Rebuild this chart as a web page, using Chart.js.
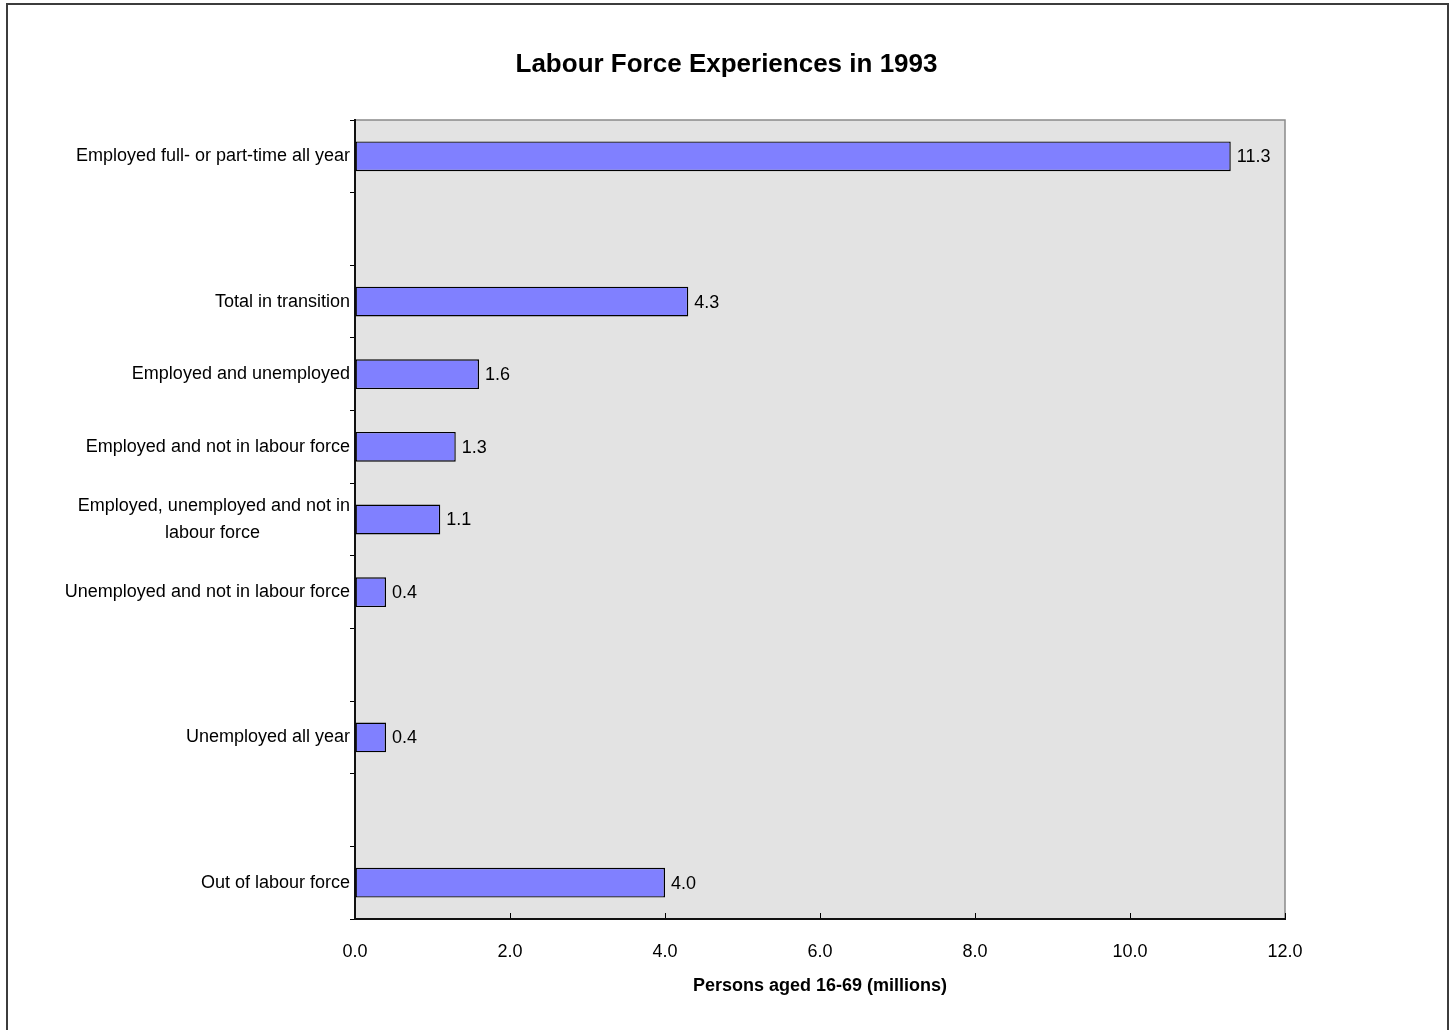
<!DOCTYPE html>
<html>
<head>
<meta charset="utf-8">
<script src="https://cdn.jsdelivr.net/npm/chart.js@4/dist/chart.umd.min.js"></script>
<style>
  html, body { margin: 0; padding: 0; background: #ffffff; }
  #frame { position: absolute; left: 6px; top: 3px; width: 1439px; height: 1040px;
           border: 2px solid #3c3c3c; border-bottom: none; }
  #wrap { position: absolute; left: 0; top: 0; width: 1453px; height: 1030px; }
</style>
</head>
<body>
<div id="frame"></div>
<div id="wrap"><canvas id="c" width="1453" height="1030"></canvas></div>
<script>
const chartTitle = "Labour Force Experiences in 1993";
const xAxisTitle = "Persons aged 16-69 (millions)";
const categories = [
  "Employed full- or part-time all year",
  "",
  "Total in transition",
  "Employed and unemployed",
  "Employed and not in labour force",
  ["Employed, unemployed and not in", "labour force" + " ".repeat(18)],
  "Unemployed and not in labour force",
  "",
  "Unemployed all year",
  "",
  "Out of labour force"
];
const values = [11.3, null, 4.3, 1.6, 1.3, 1.1, 0.4, null, 0.4, null, 4.0];
const xMin = 0, xMax = 12, xStep = 2;

const FONT = "'Liberation Sans', Arial, sans-serif";

const plotBg = {
  id: 'plotBg',
  beforeDraw(chart) {
    const {ctx, chartArea: a} = chart;
    ctx.save();
    ctx.fillStyle = '#e3e3e3';
    ctx.fillRect(a.left, a.top, a.right - a.left, a.bottom - a.top);
    ctx.strokeStyle = '#8a8a8a';
    ctx.lineWidth = 1.5;
    ctx.beginPath();
    ctx.moveTo(a.left, a.top);
    ctx.lineTo(a.right, a.top);
    ctx.lineTo(a.right, a.bottom);
    ctx.stroke();
    ctx.restore();
  }
};

const valueLabels = {
  id: 'valueLabels',
  afterDatasetsDraw(chart) {
    const {ctx} = chart;
    const meta = chart.getDatasetMeta(0);
    ctx.save();
    ctx.font = "18px " + FONT;
    ctx.fillStyle = '#000';
    ctx.textAlign = 'left';
    ctx.textBaseline = 'middle';
    meta.data.forEach((el, i) => {
      const v = chart.data.datasets[0].data[i];
      if (v === null || v === undefined) return;
      ctx.fillText(v.toFixed(1), el.x + 6, el.y + 1);
    });
    ctx.restore();
  }
};

new Chart(document.getElementById('c'), {
  type: 'bar',
  data: {
    labels: categories,
    datasets: [{
      data: values,
      backgroundColor: '#8080ff',
      borderColor: '#000000',
      borderWidth: 1.4,
      borderSkipped: false,
      barPercentage: 0.41,
      categoryPercentage: 1.0
    }]
  },
  options: {
    indexAxis: 'y',
    responsive: false,
    animation: false,
    layout: { padding: 0 },
    plugins: {
      legend: { display: false },
      tooltip: { enabled: false },
      title: {
        display: true,
        text: chartTitle,
        color: '#000',
        font: { family: FONT, size: 26, weight: 'bold' },
        padding: { top: 49, bottom: 39.8 }
      }
    },
    scales: {
      x: {
        type: 'linear',
        min: xMin, max: xMax,
        afterFit(scale) { scale.height = 111; },
        ticks: {
          stepSize: xStep,
          color: '#000',
          font: { family: FONT, size: 18 },
          padding: 28,
          maxRotation: 0,
          callback: v => Number(v).toFixed(1)
        },
        grid: { drawOnChartArea: false, drawTicks: true, tickLength: -6, color: '#000', lineWidth: 1 },
        border: { display: true, color: '#111', width: 2 },
        title: {
          display: true,
          text: xAxisTitle,
          color: '#000',
          font: { family: FONT, size: 18, weight: 'bold' },
          padding: { top: 0, bottom: 33 }
        }
      },
      y: {
        type: 'category',
        afterFit(scale) { scale.width = 355; },
        ticks: {
          autoSkip: false,
          color: '#000',
          font: { family: FONT, size: 18, lineHeight: 1.55 },
          padding: 0
        },
        grid: { offset: true, drawOnChartArea: false, drawTicks: true, tickLength: 5, color: '#000', lineWidth: 1 },
        border: { display: true, color: '#111', width: 2 }
      },
      yRightSpace: {
        type: 'category',
        position: 'right',
        afterFit(scale) { scale.width = 168; },
        ticks: { display: false },
        grid: { display: false, drawTicks: false },
        border: { display: false },
        title: { display: false }
      }
    }
  },
  plugins: [plotBg, valueLabels]
});
</script>
</body>
</html>
